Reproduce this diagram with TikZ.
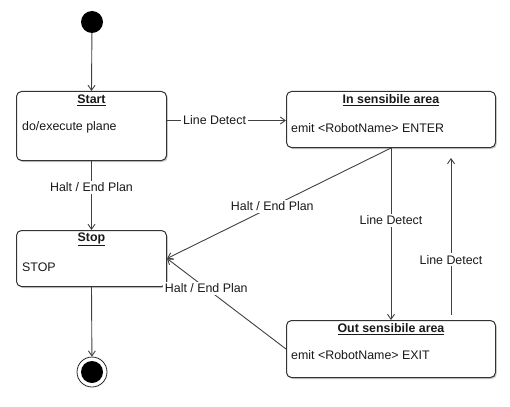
\documentclass[tikz,border=0pt]{standalone}
\usepackage{fontspec}
\setmainfont{Liberation Sans}
\usetikzlibrary{arrows.meta,shadows,calc}
\begin{document}
\begin{tikzpicture}[x=1pt,y=-1pt,
  every node/.style={font=\fontsize{12.4}{15}\selectfont, text=black!90},
  statebox/.style n args={2}{draw=black!80, line width=1pt, rounded corners=5pt, fill=white,
     minimum width=#1, minimum height=#2, anchor=north west, inner sep=0pt,
     drop shadow={shadow xshift=1.2pt, shadow yshift=-1.5pt, opacity=0.35, fill=black!60}},
  title/.style={anchor=center, inner sep=1pt},
  body/.style={anchor=west, inner sep=0pt},
  edge/.style={draw=black!75, line width=0.9pt, -{Straight Barb[length=5pt,width=7pt]}},
  lbl/.style={fill=white, inner sep=2pt}
]
\useasboundingbox (0,0) rectangle (510,406);

% initial & final
\node[circle, fill=black, minimum size=22pt, inner sep=0pt] (init) at (92,22) {};
\node[circle, draw=black!85, line width=0.8pt, fill=white, minimum size=30pt, inner sep=0pt] (final) at (92,372) {};
\node[circle, fill=black, minimum size=22pt, inner sep=0pt] (finalin) at (final) {};

% states
\node[statebox={150pt}{69pt}] (start) at (16,91) {};
\node[title] (starttitle) at ($(start.north)+(0,9)$) {\underline{\textbf{Start}}};
\node[body] (startbody) at ($(start.north west)+(6,36)$) {do/execute plane};

\node[statebox={209pt}{56pt}] (insens) at (286,91) {};
\node[title] (intitle) at ($(insens.north)+(0,9)$) {\underline{\textbf{In sensibile area}}};
\node[body] (inbody) at ($(insens.north west)+(5,37)$) {emit <RobotName> ENTER};

\node[statebox={150pt}{56pt}] (stop) at (16,230) {};
\node[title] (stoptitle) at ($(stop.north)+(0,9)$) {\underline{\textbf{Stop}}};
\node[body] (stopbody) at ($(stop.north west)+(6,37)$) {STOP};

\node[statebox={209pt}{57pt}] (outsens) at (286,320) {};
\node[title] (outtitle) at ($(outsens.north)+(0,9)$) {\underline{\textbf{Out sensibile area}}};
\node[body] (outbody) at ($(outsens.north west)+(5,35)$) {emit <RobotName> EXIT};

% connectors
\coordinate (sE) at ($(start.east)+(0,-5.5)$);
\draw[edge] (init) -- (start.north);
\draw[edge] (stop.south) -- (final);

\draw[edge] (sE) -- node[lbl, pos=0.4] (l1) {Line Detect} (insens.west |- sE);
\draw[edge] (start.south) -- node[lbl, pos=0.38] (l2) {Halt / End Plan} (stop.north);
\draw[edge] (insens.south) -- node[lbl, pos=0.53] (l3) {Halt / End Plan} (stop.east);
\draw[edge] (outsens.west) -- node[lbl, pos=0.67] (l4) {Halt / End Plan} (stop.east);
\draw[edge] (insens.south) -- node[lbl, pos=0.42] (l5) {Line Detect} (outsens.north);
\draw[edge, shorten <=5pt, shorten >=10pt] ($(outsens.north)+(60,0)$) -- node[lbl, pos=0.35] (l6) {Line Detect} ($(insens.south)+(60,0)$);
\end{tikzpicture}
\end{document}
